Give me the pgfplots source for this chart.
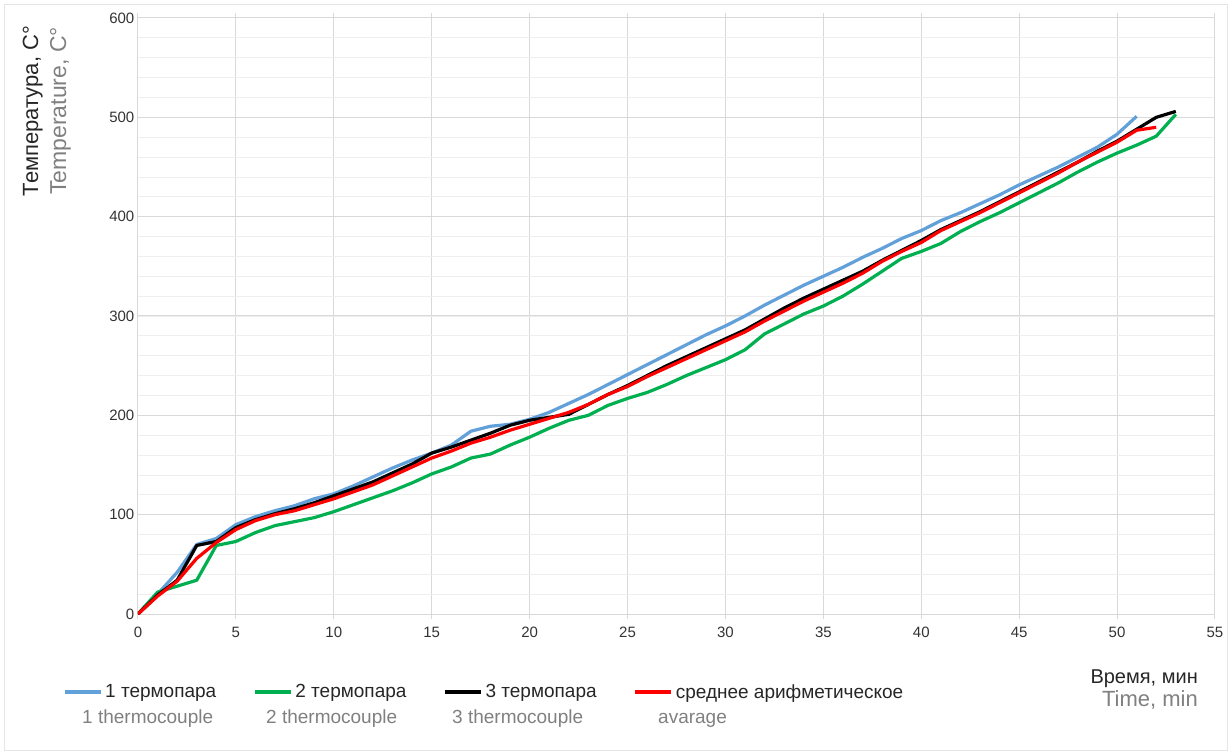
\documentclass[border=0pt]{standalone}
\usepackage{fontspec}
\setmainfont{Liberation Sans}
\usepackage{pgfplots}
\pgfplotsset{compat=1.18}
\definecolor{c1}{RGB}{98,160,218}
\definecolor{c2}{RGB}{0,176,80}
\definecolor{c3}{RGB}{0,0,0}
\definecolor{c4}{RGB}{255,0,0}
\definecolor{gridc}{RGB}{217,217,217}
\definecolor{minorc}{RGB}{238,238,238}
\definecolor{labc}{RGB}{51,51,51}
\definecolor{engc}{RGB}{128,128,128}
\begin{document}
\begin{tikzpicture}
\path[use as bounding box] (-138bp,-140bp) rectangle (1094bp,614bp);
\draw[gray!20, line width=0.8bp] (-134bp,-136bp) rectangle (1089bp,610bp);
\begin{axis}[
  at={(0,0)}, anchor=south west,
  scale only axis, width=1077bp, height=596bp,
  xmin=0, xmax=55, ymin=0, ymax=600,
  xtick={0,5,...,55}, ytick={0,100,...,600},
  minor ytick={20,40,...,580},
  grid=both,
  major grid style={gridc, line width=1bp},
  minor grid style={minorc, line width=0.8bp},
  axis line style={gridc, line width=1bp},
  tick align=outside,
  major tick length=5bp, minor tick length=0pt,
  xtick style={gridc, line width=1bp},
  ytick style={draw=none},
  tick label style={font=\fontsize{15bp}{18bp}\selectfont, text=labc, inner sep=0pt},
  /pgf/number format/assume math mode=true,
  xticklabel style={yshift=-8bp},
  yticklabel style={xshift=1.5bp},
  xlabel={\begin{tabular}{@{}r@{}}Время, мин\\\textcolor{engc}{\fontsize{22bp}{23bp}\selectfont Time, min}\end{tabular}},
  xlabel style={at={(axis description cs:0.9842,-0.0888)}, anchor=north east, inner sep=0pt,
    font=\fontsize{20bp}{23bp}\selectfont, text=black!85},
  ylabel={\begin{tabular}{@{}c@{}}Температура, С°\\\textcolor{engc}{\fontsize{23bp}{28bp}\selectfont Temperature, C°}\end{tabular}},
  ylabel style={at={(axis description cs:-0.0850,0.844)}, anchor=center, inner sep=0pt,
    font=\fontsize{22bp}{28bp}\selectfont, text=black!85},
  legend columns=4,
  legend image code/.code={\draw[#1] (0bp,0bp) -- (36bp,0bp);},
  legend style={at={(axis description cs:-0.06964,-0.1309)}, anchor=west,
    draw=none, fill=none, inner sep=0pt, outer sep=0pt,
    /tikz/column sep=0pt, /tikz/row sep=0pt,
    /tikz/every even column/.style={}, /tikz/every odd column/.style={},
    nodes={inner sep=0pt, outer sep=0pt, font=\fontsize{19bp}{22bp}\selectfont, text=black!85}},
  legend cell align=left,
  every axis plot/.append style={line width=3.2bp, line join=round},
]
\addplot[c1] coordinates {
(0,0) (1,20) (2,42) (3,70) (4,76) (5,90) (6,98) (7,104) (8,109) (9,116) (10,121)
(11,129) (12,138) (13,147) (14,155) (15,162) (16,170) (17,184) (18,189) (19,191) (20,196)
(21,203) (22,212) (23,221) (24,231) (25,241) (26,251) (27,261) (28,271) (29,281) (30,290)
(31,300) (32,311) (33,321) (34,331) (35,340) (36,349) (37,359) (38,368) (39,378) (40,386)
(41,396) (42,404) (43,413) (44,422) (45,432) (46,441) (47,450) (48,460) (49,470) (50,483)
(51,501)};
\addlegendentry{\hspace{3bp}\makebox[148bp][l]{1 термопара}}
\addplot[c2] coordinates {
(0,0) (1,22) (2,28) (3,34) (4,69) (5,73) (6,82) (7,89) (8,93) (9,97) (10,103)
(11,110) (12,117) (13,124) (14,132) (15,141) (16,148) (17,157) (18,161) (19,170) (20,178)
(21,187) (22,195) (23,200) (24,210) (25,217) (26,223) (27,231) (28,240) (29,248) (30,256)
(31,266) (32,282) (33,292) (34,302) (35,310) (36,320) (37,332) (38,345) (39,358) (40,365)
(41,373) (42,385) (43,395) (44,404) (45,414) (46,424) (47,434) (48,445) (49,455) (50,464)
(51,472) (52,481) (53,503)};
\addlegendentry{\hspace{3bp}\makebox[148bp][l]{2 термопара}}
\addplot[c3] coordinates {
(0,0) (1,19) (2,34) (3,69) (4,73) (5,87) (6,95) (7,101) (8,106) (9,112) (10,119)
(11,126) (12,133) (13,142) (14,151) (15,162) (16,168) (17,175) (18,182) (19,190) (20,195)
(21,198) (22,201) (23,211) (24,221) (25,230) (26,240) (27,250) (28,259) (29,268) (30,277)
(31,286) (32,297) (33,308) (34,318) (35,327) (36,336) (37,345) (38,356) (39,366) (40,376)
(41,387) (42,396) (43,405) (44,415) (45,425) (46,435) (47,445) (48,455) (49,466) (50,476)
(51,488) (52,500) (53,506)};
\addlegendentry{\hspace{3bp}\makebox[148bp][l]{3 термопара}}
\addplot[c4] coordinates {
(0,0) (1,18) (2,33) (3,56) (4,72) (5,85) (6,94) (7,100) (8,104) (9,110) (10,116)
(11,123) (12,130) (13,139) (14,148) (15,157) (16,164) (17,172) (18,178) (19,185) (20,191)
(21,197) (22,203) (23,211) (24,221) (25,229) (26,239) (27,248) (28,257) (29,266) (30,275)
(31,284) (32,295) (33,305) (34,315) (35,324) (36,333) (37,343) (38,355) (39,365) (40,374)
(41,386) (42,395) (43,404) (44,414) (45,424) (46,434) (47,444) (48,455) (49,465) (50,475)
(51,487) (52,490)};
\addlegendentry{\hspace{3bp}\makebox[148bp][l]{среднее арифметическое}}
\end{axis}
\begin{scope}[every node/.style={anchor=base west, inner sep=0pt, text=engc, font=\fontsize{19bp}{22bp}\selectfont}]
\node at (-56bp,-109bp) {1 thermocouple};
\node at (128bp,-109bp) {2 thermocouple};
\node at (314bp,-109bp) {3 thermocouple};
\node at (520bp,-109bp) {avarage};
\end{scope}
\end{tikzpicture}
\end{document}
